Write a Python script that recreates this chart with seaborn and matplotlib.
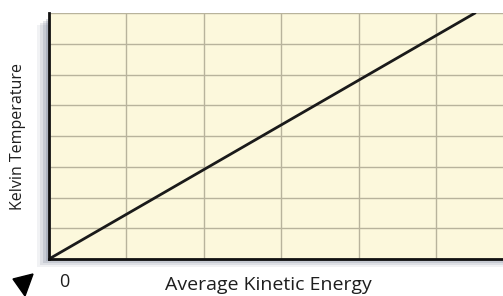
import matplotlib
matplotlib.use("Agg")
import matplotlib.pyplot as plt
from matplotlib.patches import Rectangle, Polygon
import seaborn as sns
import pandas as pd

# data: straight line through origin
energy = [0.0, 5.5]
temperature = [0.0, 8.0]
x_ticks = [0, 1, 2, 3, 4, 5]
y_ticks = [0, 1, 2, 3, 4, 5, 6, 7, 8]

df = pd.DataFrame({"energy": energy, "temperature": temperature})

sns.set_theme(style="white")
plt.rcParams["font.family"] = ["Open Sans", "DejaVu Sans"]

fig = plt.figure(figsize=(5.03, 2.96), dpi=100)
left, bottom, top = 49 / 503, 1 - 259 / 296, 1 - 13 / 296

# soft shadow on left and bottom of the grid
for i, a in enumerate([0.08, 0.12, 0.16, 0.22]):
    off = (4 - i) * 3
    fig.add_artist(Rectangle((left - off / 503, bottom - off * 0.7 / 296),
                             1, top - bottom - 4 / 296,
                             transform=fig.transFigure, color="#55607a",
                             alpha=a, lw=0, zorder=0))

ax = fig.add_axes([left, bottom, 1 - left, top - bottom], zorder=2)
ax.set_facecolor("#fcf8dc")

sns.lineplot(data=df, x="energy", y="temperature", ax=ax, color="#1a1a1a", lw=2)

ax.set_xlim(0, 5.86)
ax.set_ylim(0, 8)
ax.set_xticks(x_ticks)
ax.set_yticks(y_ticks)
ax.grid(True, color="#b8b39c", lw=1)
ax.tick_params(length=0, labelbottom=False, labelleft=False)
ax.set_xlabel("")
ax.set_ylabel("")
for s in ["top", "right"]:
    ax.spines[s].set_visible(False)
for s in ["left", "bottom"]:
    ax.spines[s].set_color("#111111")
    ax.spines[s].set_linewidth(2)

fig.text(18 / 503, 1 - 136 / 296, "Kelvin Temperature", rotation=90,
         ha="center", va="center", fontsize=11.5, color="#1e1e1e")
fig.text(268 / 503, 1 - 285 / 296, "Average Kinetic Energy",
         ha="center", va="center", fontsize=14, color="#1e1e1e")
fig.text(64 / 503, 1 - 282 / 296, "0", ha="center", va="center",
         fontsize=13, color="#1e1e1e")
fig.add_artist(Polygon([(13 / 503, 1 - 279 / 296), (33 / 503, 1 - 274 / 296),
                        (25 / 503, 1 - 296 / 296)],
                       closed=True, transform=fig.transFigure, color="black"))

fig.savefig("out.png", dpi=100)
